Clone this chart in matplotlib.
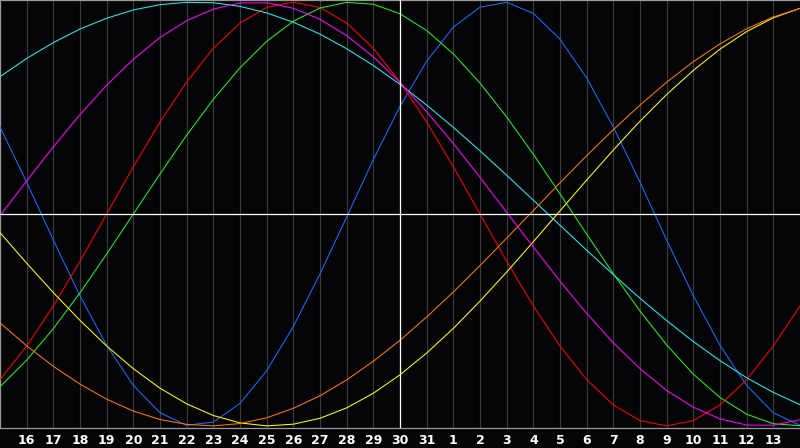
import matplotlib
matplotlib.use("Agg")
import matplotlib.pyplot as plt

# day index 0..30 -> 15th of the month .. 14th of the next month
days = list(range(31))
day_labels = [str(d) for d in range(16, 32)] + [str(d) for d in range(1, 14)]

# cycle values, one per day (-1 .. 1)
physical = [0.411, 0.150, -0.123, -0.386, -0.620, -0.809, -0.938, -0.997, -0.982, -0.894, -0.740,
            -0.531, -0.283, -0.014, 0.257, 0.508, 0.721, 0.882, 0.976, 0.999, 0.947, 0.825, 0.642,
            0.411, 0.150, -0.123, -0.386, -0.620, -0.809, -0.938, -0.997]
emotional = [-0.782, -0.623, -0.434, -0.223, 0.000, 0.223, 0.434, 0.623, 0.782, 0.901, 0.975,
             1.000, 0.975, 0.901, 0.782, 0.623, 0.434, 0.223, 0.000, -0.223, -0.434, -0.623,
             -0.782, -0.901, -0.975, -1.000, -0.975, -0.901, -0.782, -0.623, -0.434]
intellectual = [-0.815, -0.690, -0.541, -0.372, -0.189, 0.000, 0.189, 0.372, 0.541, 0.690, 0.815,
                0.910, 0.972, 0.999, 0.990, 0.945, 0.866, 0.756, 0.618, 0.458, 0.282, 0.095,
                -0.095, -0.282, -0.458, -0.618, -0.756, -0.866, -0.945, -0.990, -0.999]
intuitive = [-0.008, 0.156, 0.317, 0.469, 0.608, 0.730, 0.833, 0.912, 0.967, 0.996, 0.997,
             0.971, 0.919, 0.842, 0.742, 0.621, 0.483, 0.333, 0.173, 0.008, -0.156, -0.317,
             -0.469, -0.608, -0.730, -0.833, -0.912, -0.967, -0.996, -0.997, -0.971]
aesthetic = [-0.088, -0.232, -0.371, -0.502, -0.623, -0.730, -0.822, -0.896, -0.951, -0.986, -1.000,
             -0.992, -0.964, -0.915, -0.846, -0.759, -0.656, -0.540, -0.411, -0.274, -0.131, 0.015,
             0.160, 0.302, 0.438, 0.564, 0.678, 0.778, 0.861, 0.926, 0.971]
awareness = [-0.514, -0.622, -0.719, -0.803, -0.874, -0.930, -0.970, -0.993, -1.000, -0.989, -0.962,
             -0.917, -0.858, -0.783, -0.695, -0.596, -0.486, -0.368, -0.243, -0.114, 0.016, 0.147,
             0.275, 0.398, 0.514, 0.622, 0.719, 0.803, 0.874, 0.930, 0.970]
spiritual = [0.648, 0.734, 0.809, 0.873, 0.924, 0.963, 0.988, 0.999, 0.997, 0.980, 0.949,
             0.905, 0.849, 0.780, 0.701, 0.612, 0.514, 0.409, 0.298, 0.183, 0.065, -0.053,
             -0.171, -0.286, -0.398, -0.503, -0.602, -0.692, -0.773, -0.842, -0.900]

series = [
    (physical, "#1a6cff"),
    (emotional, "#ff0000"),
    (intellectual, "#22ee22"),
    (spiritual, "#22eeee"),
    (aesthetic, "#ffff00"),
    (awareness, "#ff7700"),
    (intuitive, "#ff00ff"),
]

bg = "#050508"
fig = plt.figure(figsize=(8, 4.48), dpi=100, facecolor=bg)
ax = fig.add_axes([0, 20 / 448, 1, 428 / 448], facecolor=bg)

for vals, col in series:
    ax.plot(days, vals, color=col, lw=0.75, zorder=3)

# today marker and zero line
ax.axvline(15, color="white", lw=0.9, zorder=4)
ax.axhline(0, color="white", lw=0.9, zorder=4)

ax.set_xlim(0, 30)
ax.set_ylim(-1.01, 1.01)
ax.set_xticks(days[1:30])
ax.set_xticklabels(day_labels)
ax.set_yticks([])
ax.tick_params(axis="x", length=0, pad=4, colors="white", labelsize=9)
for lbl in ax.get_xticklabels():
    lbl.set_fontweight("bold")
ax.grid(axis="x", color="#3c3c3c", lw=0.8, zorder=1)

for side in ["top", "left", "bottom"]:
    ax.spines[side].set_color("#999999")
    ax.spines[side].set_linewidth(0.9)
ax.spines["right"].set_visible(False)

fig.savefig("out.png", facecolor=bg)
